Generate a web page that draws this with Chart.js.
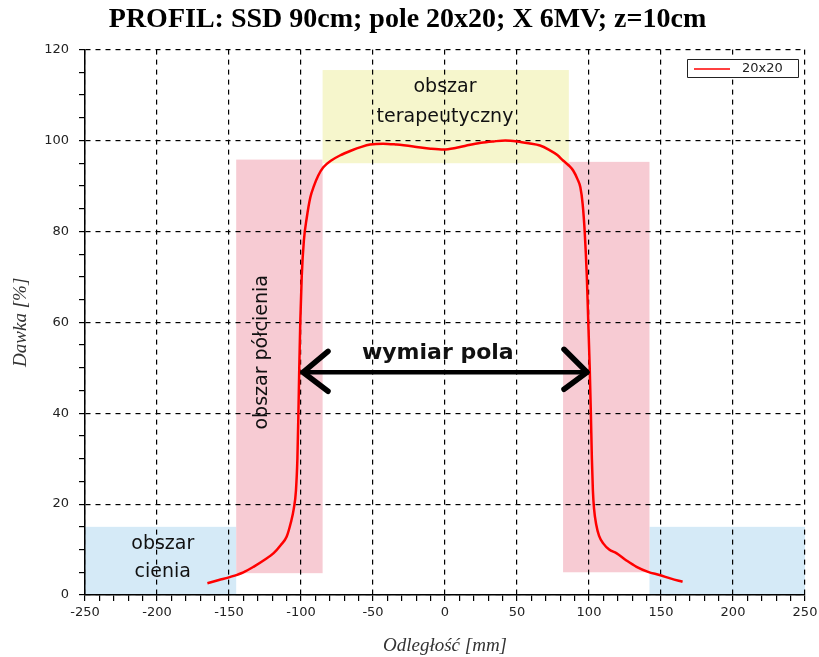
<!DOCTYPE html>
<html>
<head>
<meta charset="utf-8">
<script src="https://cdn.jsdelivr.net/npm/chart.js@4.4.0/dist/chart.umd.min.js"></script>
<style>
html, body { margin: 0; padding: 0; background: #fff; }
</style>
</head>
<body>
<canvas id="profil" width="819" height="657"></canvas>
<script>
// dane profilu
const odleglosc = [-165, -157, -149, -140, -133, -125, -119, -114, -110, -107, -105, -103.5, -102.5, -101.8, -101.2, -100.5, -99.5, -98, -96, -93.5, -91, -88, -84.5, -79, -73, -65, -58, -52, -43, -33.6, -22, -10, -1, 8, 15, 25, 33.6, 42, 50, 58, 66, 72, 78, 82, 86, 89, 92, 94, 95.6, 97, 98.5, 99.5, 100.5, 101.3, 102, 102.7, 103.5, 105, 107, 110, 114, 119, 126, 133, 141, 149, 157, 165];
const dawka = [2.6, 3.3, 4.0, 5.0, 6.2, 7.8, 9.2, 11, 12.8, 16, 19, 23, 30, 40, 50, 60, 70, 78, 83, 87.5, 90, 92.3, 94.1, 95.6, 96.7, 97.8, 98.6, 99.1, 99.3, 99.1, 98.7, 98.2, 98.0, 98.4, 98.9, 99.5, 99.8, 100, 99.8, 99.4, 98.9, 98.0, 96.8, 95.6, 94.5, 93.4, 91.5, 89.7, 86, 80, 70, 60, 50, 40, 30, 23, 19, 15.5, 13, 11.3, 10, 9.2, 7.6, 6.2, 5.1, 4.4, 3.6, 2.9];
const seriaNazwa = '20x20';

// obszary: [x od, x do, y od, y do]
const obszarCienia = [[-250, -145, 0, 15], [142, 250, 0, 15]];
const obszarPolcienia = [[-145, -85, 4.8, 95.8], [82, 142, 5, 95.3]];
const obszarTerapeutyczny = [[-85, 86, 95, 115.5]];
const wymiarPola = [-100, 100];

const xMin = -250, xMax = 250, yMin = 0, yMax = 120;

const kolory = {
    cien: '#d5eaf7',
    polcien: '#f7cbd3',
    terapia: '#f6f6cc',
    linia: '#ff0000'
};

const obszaryPlugin = {
    id: 'obszary',
    beforeDraw(chart) {
        const ctx = chart.ctx;
        const xs = chart.scales.x, ys = chart.scales.y;
        const rysuj = (lista, kolor) => {
            ctx.fillStyle = kolor;
            lista.forEach(r => {
                const x1 = xs.getPixelForValue(r[0]), x2 = xs.getPixelForValue(r[1]);
                const y1 = ys.getPixelForValue(r[3]), y2 = ys.getPixelForValue(r[2]);
                ctx.fillRect(x1, y1, x2 - x1, y2 - y1);
            });
        };
        ctx.save();
        rysuj(obszarCienia, kolory.cien);
        rysuj(obszarPolcienia, kolory.polcien);
        rysuj(obszarTerapeutyczny, kolory.terapia);
        ctx.restore();
    },
    afterDraw(chart) {
        const ctx = chart.ctx;
        const xs = chart.scales.x, ys = chart.scales.y;
        const px = v => xs.getPixelForValue(v);
        const py = v => ys.getPixelForValue(v);
        ctx.save();
        ctx.fillStyle = '#111';
        ctx.textAlign = 'center';
        ctx.textBaseline = 'middle';

        // podpisy obszarów
        ctx.font = '19px "DejaVu Sans"';
        ctx.fillText('obszar', px(0), py(111.8));
        ctx.fillText('terapeutyczny', px(0), py(105.2));
        ctx.fillText('obszar', px(-196), py(11.1));
        ctx.fillText('cienia', px(-196), py(5.1));

        ctx.save();
        ctx.translate(px(-127), py(53.4));
        ctx.rotate(-Math.PI / 2);
        ctx.fillText('obszar półcienia', 0, 0);
        ctx.restore();

        ctx.font = 'bold 22px "DejaVu Sans"';
        ctx.fillText('wymiar pola', px(-5), py(53.2));

        // strzałka wymiaru pola
        const yA = py(49);
        const xL = px(wymiarPola[0]), xR = px(wymiarPola[1]);
        ctx.strokeStyle = '#000';
        ctx.lineCap = 'round';
        ctx.lineJoin = 'round';
        ctx.lineWidth = 4.5;
        ctx.beginPath();
        ctx.moveTo(xL + 2, yA);
        ctx.lineTo(xR - 2, yA);
        ctx.stroke();
        ctx.lineWidth = 5.5;
        ctx.beginPath();
        ctx.moveTo(xL + 27, yA - 21);
        ctx.lineTo(xL + 2, yA);
        ctx.lineTo(xL + 27, yA + 19);
        ctx.moveTo(xR - 25, yA - 23);
        ctx.lineTo(xR - 2, yA);
        ctx.lineTo(xR - 25, yA + 17);
        ctx.stroke();

        // legenda w rogu
        const ds = chart.data.datasets[0];
        ctx.lineCap = 'butt';
        ctx.fillStyle = '#fff';
        ctx.fillRect(687, 59.5, 111, 18);
        ctx.strokeStyle = '#222';
        ctx.lineWidth = 1;
        ctx.strokeRect(687.5, 59.5, 111, 18);
        ctx.strokeStyle = ds.borderColor;
        ctx.lineWidth = 1.5;
        ctx.beginPath();
        ctx.moveTo(694, 69);
        ctx.lineTo(730, 69);
        ctx.stroke();
        ctx.fillStyle = '#222';
        ctx.font = '13px "DejaVu Sans"';
        ctx.textAlign = 'left';
        ctx.fillText(ds.label, 742, 69);
        ctx.restore();
    }
};

const siatka = (krok) => ({
    color: (c) => (c.tick && Math.round(c.tick.value) % krok === 0) ? '#000' : 'rgba(0,0,0,0)',
    tickColor: '#000',
    tickLength: 6,
    lineWidth: 1.2
});

new Chart(document.getElementById('profil').getContext('2d'), {
    type: 'line',
    data: {
        labels: odleglosc,
        datasets: [{
            label: seriaNazwa,
            data: odleglosc.map((x, i) => ({ x: x, y: dawka[i] })),
            borderColor: kolory.linia,
            borderWidth: 2.5,
            pointRadius: 0,
            cubicInterpolationMode: 'monotone',
            fill: false
        }]
    },
    options: {
        responsive: false,
        animation: false,
        layout: { padding: { left: 10, right: 14, top: 0, bottom: 0 } },
        plugins: {
            legend: { display: false },
            tooltip: { enabled: false },
            title: {
                display: true,
                text: 'PROFIL: SSD 90cm; pole 20x20; X 6MV; z=10cm',
                color: '#000',
                font: { family: '"Liberation Serif"', size: 28, weight: 'bold' },
                padding: { top: 3, bottom: 13 }
            }
        },
        scales: {
            x: {
                type: 'linear',
                min: xMin,
                max: xMax,
                grid: siatka(50),
                border: { color: '#000', width: 1.5, dash: [5, 5] },
                ticks: {
                    stepSize: 10,
                    autoSkip: false,
                    maxRotation: 0,
                    padding: 4,
                    color: '#222',
                    font: { family: '"DejaVu Sans"', size: 13 },
                    callback: (v) => (v % 50 === 0 ? String(v) : '')
                },
                title: {
                    display: true,
                    text: 'Odległość [mm]',
                    color: '#333',
                    font: { family: '"Liberation Serif"', size: 19, style: 'italic' },
                    padding: { top: 4, bottom: 0 }
                },
                afterFit: (s) => { s.height = 62; s.paddingRight = 0; }
            },
            y: {
                min: yMin,
                max: yMax,
                grid: siatka(20),
                border: { color: '#000', width: 1.5, dash: [5, 5] },
                ticks: {
                    stepSize: 5,
                    autoSkip: false,
                    padding: 10,
                    color: '#222',
                    font: { family: '"DejaVu Sans"', size: 13 },
                    callback: (v) => (v % 20 === 0 ? String(v) : '')
                },
                title: {
                    display: true,
                    text: 'Dawka [%]',
                    color: '#333',
                    font: { family: '"Liberation Serif"', size: 19, style: 'italic' },
                    padding: { top: 0, bottom: 4 }
                },
                afterFit: (s) => { s.width = 75; }
            }
        }
    },
    plugins: [obszaryPlugin]
});
</script>
</body>
</html>
